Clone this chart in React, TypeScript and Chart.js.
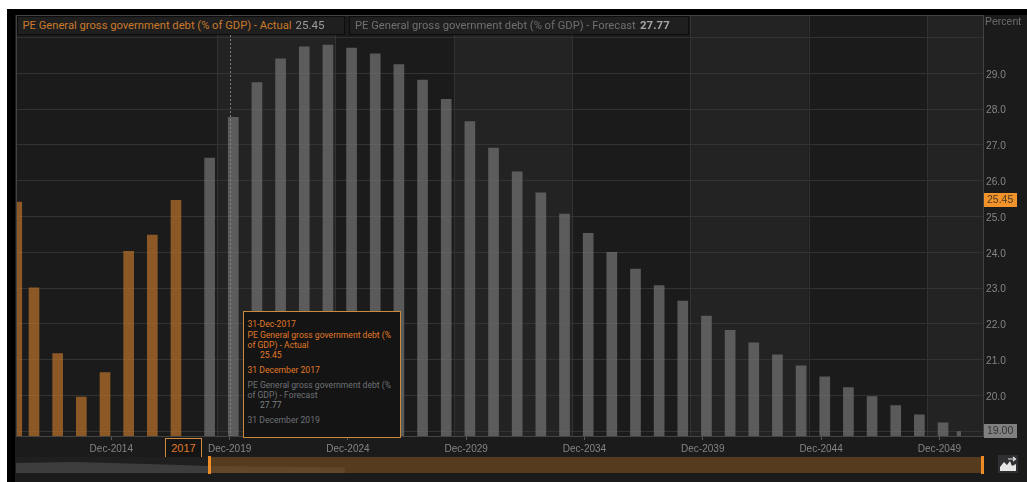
import React, { useEffect, useRef } from "react";
import { Chart, registerables } from "chart.js";

Chart.register(...registerables);

// Reported debt ratio, year-end observations (the first bar is cut by the window edge)
const actualYears = [2010.27, 2011, 2012, 2013, 2014, 2015, 2016, 2017];
const actualValues = [25.4, 23.01, 21.17, 19.96, 20.64, 24.03, 24.48, 25.45];

// Projected debt ratio
const forecastYears = [
  2018, 2019, 2020, 2021, 2022, 2023, 2024, 2025, 2026, 2027, 2028, 2029, 2030, 2031, 2032, 2033,
  2034, 2035, 2036, 2037, 2038, 2039, 2040, 2041, 2042, 2043, 2044, 2045, 2046, 2047, 2048, 2049,
];
const forecastValues = [
  26.63, 27.77, 28.74, 29.4, 29.74, 29.79, 29.7, 29.54, 29.24, 28.81, 28.27, 27.65, 26.91, 26.25,
  25.66, 25.07, 24.53, 24.0, 23.53, 23.07, 22.64, 22.22, 21.82, 21.47, 21.14, 20.83, 20.52, 20.22,
  19.97, 19.72, 19.46, 19.24,
];
// Last projected bar, narrowed by the right edge of the window
const tailYears = [2049.88];
const tailValues = [18.99];

const tickYears = [2014, 2019, 2024, 2029, 2034, 2039, 2044, 2049];
const bandEdges = [2018.53, 2023.53, 2028.53, 2033.53, 2038.53, 2043.53, 2048.53];
const crosshairYear = 2019.055;
const latestValue = 25.45;
const axisFloorValue = 19;

// Overview strip: position along the track (percent) and relative height
const overviewPositions = [0, 6, 10, 17, 20, 30, 34];
const overviewHeights = [10, 11, 10, 8, 7, 6, 5.5];

const UI_FONT = '"Liberation Sans", Arial, sans-serif';
const READOUT_FONT = 'Roboto, "Liberation Sans", sans-serif';

const chromePlugin = {
  id: "chrome",
  beforeDraw(chart: any) {
    const { ctx, chartArea: a, scales } = chart;
    const x = scales.x;
    ctx.save();
    const edges = [a.left, ...bandEdges.map((v) => x.getPixelForValue(v)), a.right];
    edges.slice(0, -1).forEach((left, i) => {
      ctx.fillStyle = i % 2 === 1 ? "#232324" : "#1b1b1c";
      ctx.fillRect(left, a.top, edges[i + 1] - left, a.bottom - a.top);
    });
    ctx.strokeStyle = "#323233";
    ctx.lineWidth = 1;
    bandEdges.forEach((v) => {
      const px = Math.round(x.getPixelForValue(v)) + 0.5;
      ctx.beginPath();
      ctx.moveTo(px, a.top);
      ctx.lineTo(px, a.bottom);
      ctx.stroke();
    });
    ctx.restore();
  },
  afterDraw(chart: any) {
    const { ctx, chartArea: a, scales } = chart;
    ctx.save();
    // Frame around the plot
    ctx.strokeStyle = "#434344";
    ctx.lineWidth = 1;
    ctx.strokeRect(a.left + 0.5, a.top + 0.5, a.right - a.left, a.bottom - a.top);

    // Cursor line on the hovered date
    const cx = Math.round(scales.x.getPixelForValue(crosshairYear)) + 0.5;
    ctx.strokeStyle = "#7d7d7d";
    ctx.setLineDash([2, 2]);
    ctx.beginPath();
    ctx.moveTo(cx, a.top);
    ctx.lineTo(cx, a.bottom);
    ctx.stroke();
    ctx.setLineDash([]);

    // Value flags on the right-hand axis
    const flag = (value: number, text: string, fill: string, ink: string) => {
      const y = Math.round(scales.y.getPixelForValue(value));
      ctx.fillStyle = fill;
      ctx.fillRect(a.right + 1, y - 7, 33, 14);
      ctx.fillStyle = ink;
      ctx.font = `10.5px ${UI_FONT}`;
      ctx.textBaseline = "middle";
      ctx.textAlign = "left";
      ctx.fillText(text, a.right + 4, y + 0.5);
    };
    flag(latestValue, latestValue.toFixed(2), "#f2932a", "#4a3a24");
    flag(axisFloorValue, axisFloorValue.toFixed(2), "#808080", "#333333");
    ctx.restore();
  },
};

const box = (extra: React.CSSProperties): React.CSSProperties => ({
  position: "absolute",
  boxSizing: "border-box",
  whiteSpace: "nowrap",
  fontFamily: UI_FONT,
  ...extra,
});

const line = (top: number, text: string, color: string, left = 3.5, weight = 400) => (
  <div
    style={box({
      left,
      top,
      fontFamily: READOUT_FONT,
      fontSize: 8.6,
      lineHeight: "10px",
      color,
      fontWeight: weight,
    })}
  >
    {text}
  </div>
);

export default function App() {
  const mainRef = useRef<HTMLCanvasElement>(null);
  const overviewRef = useRef<HTMLCanvasElement>(null);

  useEffect(() => {
    const main = new Chart(mainRef.current!, {
      type: "bar",
      data: {
        datasets: [
          {
            label: "PE General gross government debt (% of GDP) - Actual",
            data: actualYears.map((x, i) => ({ x, y: actualValues[i] })),
            backgroundColor: "rgba(179,111,41,0.75)",
            barThickness: 10,
          },
          {
            label: "PE General gross government debt (% of GDP) - Forecast",
            data: forecastYears.map((x, i) => ({ x, y: forecastValues[i] })),
            backgroundColor: "rgba(112,112,112,0.75)",
            barThickness: 10,
          },
          {
            label: "Forecast tail",
            data: tailYears.map((x, i) => ({ x, y: tailValues[i] })),
            backgroundColor: "rgba(112,112,112,0.75)",
            barThickness: 3.5,
            grouped: false,
          },
        ],
      },
      options: {
        animation: false,
        responsive: false,
        events: [],
        layout: { padding: { left: 16, top: 15, right: 0, bottom: 0 } },
        plugins: { legend: { display: false }, tooltip: { enabled: false } },
        scales: {
          x: {
            type: "linear",
            offset: false,
            min: 2010.027,
            max: 2050.9,
            afterFit: (s: any) => {
              s.height = 46;
            },
            afterBuildTicks: (s: any) => {
              s.ticks = tickYears.map((y) => ({ value: y + 0.055 }));
            },
            grid: {
              offset: false,
              drawOnChartArea: false,
              drawTicks: true,
              tickLength: 4,
              color: "#5a5a5a",
            },
            border: { display: false },
            ticks: {
              autoSkip: false,
              maxRotation: 0,
              padding: 3,
              color: "#858585",
              font: { family: UI_FONT, size: 10 },
              callback: (v: any) => `Dec-${Math.floor(Number(v))}`,
            },
          },
          y: {
            type: "linear",
            position: "right",
            min: 18.87,
            max: 30.627,
            afterFit: (s: any) => {
              s.width = 44;
            },
            afterBuildTicks: (s: any) => {
              s.ticks = [19, 20, 21, 22, 23, 24, 25, 26, 27, 28, 29, 30].map((value) => ({ value }));
            },
            grid: { color: "#333334", drawTicks: false },
            border: { display: false },
            ticks: {
              padding: 3,
              labelOffset: 1.5,
              color: "#858585",
              font: { family: UI_FONT, size: 10.2 },
              callback: (v: any) => (v === 19 || v === 30 ? "" : Number(v).toFixed(1)),
            },
          },
        },
      },
      plugins: [chromePlugin],
    } as any);

    const overview = new Chart(overviewRef.current!, {
      type: "line",
      data: {
        datasets: [
          {
            data: overviewPositions.map((x, i) => ({ x, y: overviewHeights[i] })),
            fill: "origin",
            backgroundColor: "#3d3d3d",
            borderWidth: 0,
            pointRadius: 0,
            tension: 0,
          },
        ],
      },
      options: {
        animation: false,
        responsive: false,
        events: [],
        plugins: { legend: { display: false }, tooltip: { enabled: false } },
        scales: {
          x: { type: "linear", display: false, min: 0, max: 100 },
          y: { type: "linear", display: false, min: 0, max: 16 },
        },
      },
    } as any);

    return () => {
      main.destroy();
      overview.destroy();
    };
  }, []);

  const orange = "#e07a28";
  const grey = "#6e7276";

  return (
    <div style={{ position: "fixed", inset: 0, background: "#ffffff", overflow: "hidden" }}>
      <div style={box({ left: 7, top: 9, right: 0, bottom: 0, background: "#000000" })} />
      <div style={box({ left: 15, top: 15, right: 0, bottom: 0, background: "#1b1b1c" })} />
      <canvas
        ref={mainRef}
        width={1027}
        height={482}
        style={{ position: "absolute", left: 0, top: 0, display: "block" }}
      />

      {/* Series read-outs */}
      <div
        style={box({
          left: 17,
          top: 16,
          width: 328,
          height: 19,
          background: "#1f1f20",
          border: "1px solid #0c0c0c",
          fontFamily: READOUT_FONT,
          fontSize: 11.2,
          lineHeight: "17px",
          color: "#c97a2a",
          paddingLeft: 4.5,
        })}
      >
        PE General gross government debt (% of GDP) - Actual
        <span style={{ position: "absolute", left: 277.5, color: "#9c9c9c", fontSize: 11.5 }}>25.45</span>
      </div>
      <div
        style={box({
          left: 349,
          top: 16,
          width: 340,
          height: 19,
          background: "#1f1f20",
          border: "1px solid #0c0c0c",
          fontFamily: READOUT_FONT,
          fontSize: 11.2,
          lineHeight: "17px",
          color: "#6e7072",
          paddingLeft: 5,
        })}
      >
        PE General gross government debt (% of GDP) - Forecast
        <span style={{ position: "absolute", left: 290, color: "#a4a4a4", fontSize: 11.5, fontWeight: 700 }}>
          27.77
        </span>
      </div>
      <div style={box({ left: 985, top: 15, fontSize: 10.5, lineHeight: "13px", color: "#6f6f6f" })}>
        Percent
      </div>

      {/* Date flag on the time axis */}
      <div
        style={box({
          left: 165,
          top: 438,
          width: 37,
          height: 21,
          background: "#141414",
          border: "1px solid #d08a3c",
          color: orange,
          fontSize: 11,
          lineHeight: "19px",
          textAlign: "center",
        })}
      >
        2017
      </div>

      {/* Hover card */}
      <div
        style={box({
          left: 243,
          top: 311,
          width: 158,
          height: 127,
          background: "#141414",
          border: "1px solid #c98a3e",
        })}
      >
        {line(7, "31-Dec-2017", orange)}
        {line(18, "PE General gross government debt (%", orange)}
        {line(28, "of GDP) - Actual", orange)}
        {line(38, "25.45", orange, 16)}
        {line(53, "31 December 2017", orange)}
        {line(68, "PE General gross government debt (%", grey)}
        {line(78, "of GDP) - Forecast", grey)}
        {line(88, "27.77", "#7e8184", 16)}
        {line(103, "31 December 2019", grey)}
      </div>

      {/* Overview strip */}
      <div style={box({ left: 16, top: 457, width: 967, height: 16, background: "#1f1f20" })} />
      <canvas
        ref={overviewRef}
        width={967}
        height={16}
        style={{ position: "absolute", left: 16, top: 457, display: "block" }}
      />
      <div
        style={box({ left: 209, top: 457, width: 774, height: 16, background: "rgba(125,78,30,0.6)" })}
      />
      <div style={box({ left: 208, top: 456, width: 3, height: 18, background: "#f08c26" })} />
      <div style={box({ left: 981, top: 456, width: 3, height: 18, background: "#f08c26" })} />

      {/* Chart-type button */}
      <svg
        width={20}
        height={18}
        viewBox="0 0 20 18"
        style={{ position: "absolute", left: 998, top: 455 }}
      >
        <rect width="20" height="18" fill="#303034" />
        <path d="M2 16 L2 12 L6 7 L9 10 L12 6 L14 11 L18 9 L18 16 Z" fill="#e6e6e6" />
        <path d="M10 4 H17 M15 2 L17.5 4 L15 6" stroke="#e6e6e6" strokeWidth="1.2" fill="none" />
      </svg>
    </div>
  );
}
